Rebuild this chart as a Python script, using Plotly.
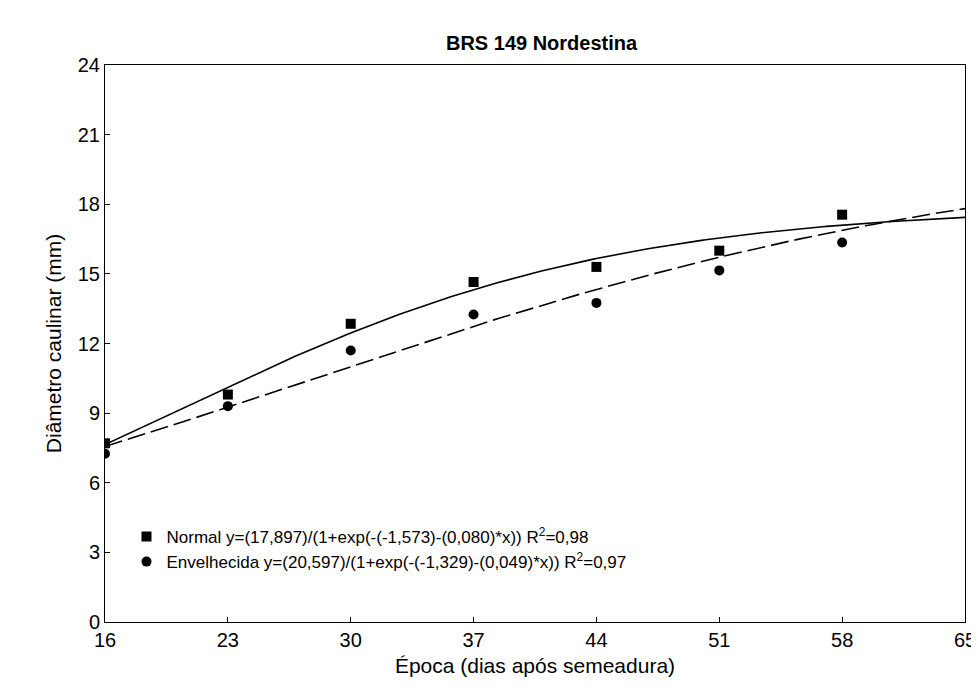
import numpy as np
import plotly.graph_objects as go

epoca = [16, 23, 30, 37, 44, 51, 58]
normal = [7.7, 9.8, 12.85, 14.65, 15.3, 16.0, 17.55]
envelhecida = [7.25, 9.3, 11.7, 13.25, 13.75, 15.15, 16.35]

# fitted logistic parameters (a, b, c) from the legend
par_normal = (17.897, -1.573, 0.080)
par_env = (20.597, -1.329, 0.049)

xs = np.linspace(16, 65, 200)
def logistic(p, x):
    a, b, c = p
    return a / (1 + np.exp(-b - c * x))

fig = go.Figure()
fig.add_trace(go.Scatter(x=xs, y=logistic(par_normal, xs), mode="lines",
                         line=dict(color="black", width=1.6), showlegend=False))
fig.add_trace(go.Scatter(x=xs, y=logistic(par_env, xs), mode="lines",
                         line=dict(color="black", width=1.6, dash="18px,6px"), showlegend=False))
fig.add_trace(go.Scatter(x=epoca, y=normal, mode="markers",
                         marker=dict(symbol="square", size=10, color="black"),
                         name="Normal y=(17,897)/(1+exp(-(-1,573)-(0,080)*x)) R<sup>2</sup>=0,98"))
fig.add_trace(go.Scatter(x=epoca, y=envelhecida, mode="markers",
                         marker=dict(symbol="circle", size=10, color="black"),
                         name="Envelhecida y=(20,597)/(1+exp(-(-1,329)-(0,049)*x)) R<sup>2</sup>=0,97"))

ax = dict(showgrid=False, zeroline=False, showline=True, mirror=True, linecolor="black",
          linewidth=1, ticks="inside", ticklen=5, tickcolor="black",
          tickfont=dict(size=20, color="black"))
fig.update_layout(
    width=979, height=694, plot_bgcolor="white", paper_bgcolor="white",
    font=dict(family="Liberation Sans, Arial", color="black"),
    title=dict(text="<b>BRS 149 Nordestina</b>", x=0.545, y=0.96, font=dict(size=20)),
    margin=dict(l=97, r=22, t=57, b=80),
    xaxis=dict(ax, range=[16, 65], tickvals=[16, 23, 30, 37, 44, 51, 58, 65],
               title=dict(text="Época (dias após semeadura)", font=dict(size=21), standoff=8)),
    yaxis=dict(ax, range=[0, 24], tickvals=list(range(0, 25, 3)),
               title=dict(text="Diâmetro caulinar (mm)", font=dict(size=21), standoff=10)),
    legend=dict(x=0.025, y=0.185, xanchor="left", yanchor="top", bgcolor="rgba(0,0,0,0)",
                font=dict(size=17), itemwidth=30, tracegroupgap=8),
)
fig.write_html("out.html")
